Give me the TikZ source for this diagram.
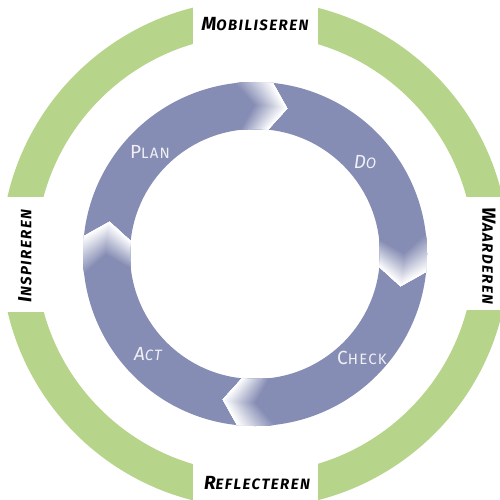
\documentclass[tikz,border=0pt]{standalone}
\usepackage{fontspec}
\setmainfont{Fira Sans}
\definecolor{ringblue}{RGB}{134,141,180}
\definecolor{ringgreen}{RGB}{182,212,138}
\definecolor{lablight}{RGB}{240,240,246}
\newcommand\gsc[2]{\addfontfeatures{LetterSpace=10}{\fontsize{19}{19}\selectfont #1}{\fontsize{15}{15}\selectfont #2}}
\newcommand\bsc[2]{\addfontfeatures{LetterSpace=8}{\fontsize{19}{19}\selectfont #1}{\fontsize{15}{15}\selectfont #2}}
\tikzset{
  greenlab/.style={font=\bfseries\itshape, text=black, inner sep=0pt},
  bluelab/.style={text=lablight, inner sep=0pt},
  gapbox/.style={fill=white, draw=none}
}
\begin{document}
\begin{tikzpicture}[x=1pt,y=-1pt]
\useasboundingbox (0,0) rectangle (499,500);
\coordinate (C) at (255,254);
% green ring
\fill[ringgreen, even odd rule] (C) circle (254pt) (C) circle (219pt);
\fill[gapbox] (193,-5) rectangle (318,60);
\fill[gapbox] (193,440) rectangle (318,505);
\fill[gapbox] (-5,197) rectangle (60,312);
\fill[gapbox] (440,197) rectangle (505,310);
% blue ring
\fill[ringblue, even odd rule] (C) circle (172pt) (C) circle (125pt);
% chevrons with shading
\begin{scope}[shift={(C)}]
\foreach \a in {84,-6,-96,174}{
  \foreach \k in {26,25,...,1}{
    \pgfmathsetmacro{\th}{\a+\k*0.5}
    \pgfmathsetmacro{\pc}{100*(\k-1)/25}
    \fill[ringblue!\pc!white]
      (\th:172pt) arc[start angle=\th, end angle=\a, radius=172pt]
      -- (\a-6.5:149pt) -- (\a:125pt)
      arc[start angle=\a, end angle=\th, radius=125pt]
      -- (\th-6.5:149pt) -- cycle;
  }
}
\end{scope}
% green labels
\node[greenlab] (mob) at (255,24) {\gsc{M}{OBILISEREN}};
\node[greenlab] (ref) at (257,483) {\gsc{R}{EFLECTEREN}};
\node[greenlab, rotate=90] (ins) at (25,256) {\gsc{I}{NSPIREREN}};
\node[greenlab, rotate=-90] (waa) at (489,256) {\gsc{W}{AARDEREN}};
% blue labels
\node[bluelab] (plan) at (150,152) {\bsc{P}{LAN}};
\node[bluelab, font=\itshape] (do) at (365,162) {\bsc{D}{O}};
\node[bluelab] (check) at (362,358) {\bsc{C}{HECK}};
\node[bluelab, font=\itshape] (act) at (148,354) {\bsc{A}{CT}};
\end{tikzpicture}
\end{document}
